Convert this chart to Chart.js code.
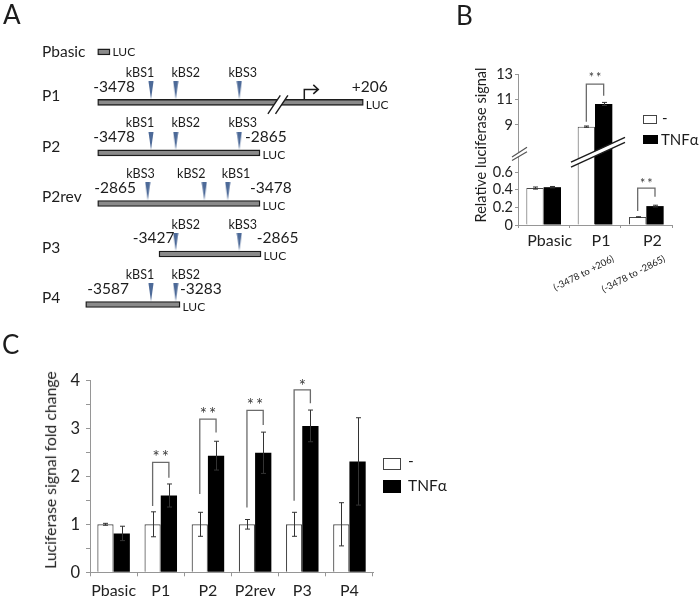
<!DOCTYPE html>
<html>
<head>
<meta charset="utf-8">
<script src="https://cdn.jsdelivr.net/npm/chart.js@4.4.0/dist/chart.umd.min.js"></script>
<style>
    body { margin: 0; background: #fff; font-family: Lato, "Open Sans", sans-serif; color: #1c1c1c; }
    #page { position: relative; width: 700px; height: 602px; overflow: hidden; }
    canvas { position: absolute; left: 0; top: 0; pointer-events: none; }
    .txt { position: absolute; white-space: nowrap; line-height: 1; }
    .letter { font-size: 26px; }
    .vtitle { transform: translate(-50%, -50%) rotate(-90deg); }
    .swatch { position: absolute; box-sizing: border-box; }
</style>
</head>
<body>
<div id="page">
    <canvas id="chartA" width="700" height="602"></canvas>
    <canvas id="chartBTop" width="700" height="602"></canvas>
    <canvas id="chartBBottom" width="700" height="602"></canvas>
    <canvas id="chartC" width="700" height="602"></canvas>

    <div class="txt letter" style="left:3px; top:1px;">A</div>
    <div class="txt letter" style="left:456px; top:2px;">B</div>
    <div class="txt letter" style="left:2px; top:331px;">C</div>

    <!-- panel B legend + title -->
    <div class="swatch" style="left:643px; top:115px; width:14px; height:9px; border:1.2px solid #444; background:#fff;"></div>
    <div class="txt" style="left:662px; top:110px; font-size:15px;">-</div>
    <div class="swatch" style="left:643px; top:135px; width:15px; height:9px; background:#000;"></div>
    <div class="txt" style="left:661px; top:132px; font-size:15px;">TNFα</div>
    <div class="txt vtitle" style="left:481px; top:145px; font-size:14.5px;">Relative luciferase signal</div>

    <!-- panel C legend + title -->
    <div class="swatch" style="left:383px; top:458px; width:18px; height:12px; border:1.3px solid #444; background:#fff;"></div>
    <div class="txt" style="left:408px; top:453px; font-size:15.5px;">-</div>
    <div class="swatch" style="left:383px; top:480px; width:18px; height:13px; background:#000;"></div>
    <div class="txt" style="left:408px; top:478px; font-size:15.5px;">TNFα</div>
    <div class="txt vtitle" style="left:50px; top:470px; font-size:15.8px;">Luciferase signal fold change</div>
</div>

<script>
// =============================
// DATA
// =============================

// Panel A: reporter constructs, positions in schematic units along the map
const constructNames = ['Pbasic', 'P1', 'P2', 'P2rev', 'P3', 'P4'];
const constructStart = [17.7, 17.7, 17.7, 17.7, 79, 5.7];
const constructEnd = [30, 283.3, 180, 180, 181, 100];
const startLabels = ['', '-3478', '-3478', '-2865', '-3427', '-3587'];
const endLabels = ['', '+206', '-2865', '-3478', '-2865', '-3283'];

const siteRows = ['P1', 'P1', 'P1', 'P2', 'P2', 'P2', 'P2rev', 'P2rev', 'P2rev', 'P3', 'P3', 'P4', 'P4'];
const siteNames = ['kBS1', 'kBS2', 'kBS3', 'kBS1', 'kBS2', 'kBS3', 'kBS3', 'kBS2', 'kBS1', 'kBS2', 'kBS3', 'kBS1', 'kBS2'];
const sitePos = [71, 95.7, 159.3, 71, 95.7, 159.3, 67.7, 124.3, 147.7, 95.7, 159.3, 71, 95.7];

const p1BreakPos = 198;   // "//" gap in P1
const p1TssPos = 224.3;   // transcription start arrow

// Panel B: relative luciferase signal
const bLabels = ['Pbasic', 'P1', 'P2'];
const bSubLabels = ['', '(-3478 to +206)', '(-3478 to -2865)'];
const bControl = [0.42, 8.87, 0.09];
const bControlErr = [0.012, 0.05, 0.004];
const bTnf = [0.43, 10.65, 0.215];
const bTnfErr = [0.008, 0.12, 0.01];
const bUpperTicks = [9, 11, 13];
const bLowerTicks = [0, 0.2, 0.4, 0.6];
const bSig = ['', '**', '**'];
const bBracketLeft = [null, 9.26, 0.16];
const bBracketTop = [null, 12.2, 0.42];
const bBracketRight = [null, 11.3, 0.32];
const bStarAt = [null, 12.9, 0.5];

// Panel C: fold change
const cLabels = ['Pbasic', 'P1', 'P2', 'P2rev', 'P3', 'P4'];
const cControl = [1, 1, 1, 1, 1, 1];
const cControlErr = [0.02, 0.26, 0.25, 0.1, 0.25, 0.45];
const cTnf = [0.81, 1.6, 2.43, 2.49, 3.05, 2.31];
const cTnfErr = [0.15, 0.24, 0.3, 0.43, 0.33, 0.91];
const cTicks = [0, 0.5, 1, 1.5, 2, 2.5, 3, 3.5, 4];
const cSig = ['', '**', '**', '**', '*', ''];
const cBracketLeft = [null, 1.38, 1.63, 1.35, 1.49, null];
const cBracketTop = [null, 2.29, 3.19, 3.375, 3.8, null];
const cBracketRight = [null, 1.97, 2.91, 3.07, 3.52, null];
const cStarAt = [null, 2.48, 3.37, 3.56, 3.95, null];

// =============================
// COMMON
// =============================
Chart.defaults.font.family = 'Lato, "Open Sans", sans-serif';
Chart.defaults.color = '#1e1e1e';
Chart.defaults.animation = false;
Chart.defaults.plugins.legend.display = false;
Chart.defaults.plugins.tooltip.enabled = false;

const axisGray = '#969696';
const FONT = 'Lato, "Open Sans", sans-serif';

function errorBarPlugin(errorSets) {
    return {
        id: 'errorBars',
        afterDatasetsDraw(chart) {
            const { ctx, chartArea, scales: { y } } = chart;
            ctx.save();
            ctx.strokeStyle = '#333';
            ctx.lineWidth = 1;
            chart.data.datasets.forEach((ds, d) => {
                chart.getDatasetMeta(d).data.forEach((bar, i) => {
                    const err = errorSets[d][i];
                    const hi = y.getPixelForValue(ds.data[i] + err);
                    const lo = y.getPixelForValue(ds.data[i] - err);
                    if (hi < chartArea.top - 1 || lo > chartArea.bottom + 1) return;
                    const x = Math.round(bar.x) + 0.5;
                    ctx.beginPath();
                    ctx.moveTo(x, lo); ctx.lineTo(x, hi);
                    ctx.moveTo(x - 2.5, hi); ctx.lineTo(x + 2.5, hi);
                    ctx.moveTo(x - 2.5, lo); ctx.lineTo(x + 2.5, lo);
                    ctx.stroke();
                });
            });
            ctx.restore();
        }
    };
}

function bracketPlugin(sig, left, top, right, star, starSize) {
    return {
        id: 'sigBrackets',
        afterDatasetsDraw(chart) {
            const { ctx, scales: { y } } = chart;
            const ctrl = chart.getDatasetMeta(0).data;
            const tnf = chart.getDatasetMeta(1).data;
            ctx.save();
            ctx.strokeStyle = '#6b6b6b';
            ctx.lineWidth = 1.3;
            ctx.fillStyle = '#3a3a3a';
            ctx.font = `${starSize}px ${FONT}`;
            ctx.textAlign = 'center';
            ctx.textBaseline = 'alphabetic';
            ctx.letterSpacing = '2px';
            sig.forEach((s, i) => {
                if (!s || top[i] < y.min || top[i] > y.max) return;
                const x0 = ctrl[i].x, x1 = tnf[i].x;
                const yt = y.getPixelForValue(top[i]);
                ctx.beginPath();
                ctx.moveTo(x0, y.getPixelForValue(left[i]));
                ctx.lineTo(x0, yt);
                ctx.lineTo(x1, yt);
                ctx.lineTo(x1, y.getPixelForValue(right[i]));
                ctx.stroke();
                ctx.fillText(s, (x0 + x1) / 2 + 1, y.getPixelForValue(star[i]) + starSize * 0.57);
            });
            ctx.restore();
        }
    };
}

function fixedTicks(values) {
    return scale => { scale.ticks = values.map(v => ({ value: v })); };
}

// =============================
// PANEL A
// =============================
function siteMarker() {
    const c = document.createElement('canvas');
    c.width = 6;
    c.height = 42;
    const g = c.getContext('2d');
    g.fillStyle = '#4d6a98';
    g.beginPath();
    g.moveTo(0.5, 0);
    g.lineTo(5.5, 0);
    g.lineTo(3, 18);
    g.closePath();
    g.fill();
    return c;
}

// text placement relative to bar ends (px)
const startTextDx = [0, -4.4, -4.4, -3.4, -26.3, 1.6];
const endTextDx = [0, -11.6, -15, -10, -4.3, 0];
const siteTextDx = [-11, 10, 3.4, -11, 10, 3.4, -7.2, -13, 8.3, 10, 3.4, -11, 10];

const constructPlugin = {
    id: 'constructLabels',
    afterDatasetsDraw(chart) {
        const { ctx, scales: { x, y } } = chart;
        ctx.save();
        ctx.fillStyle = '#1c1c1c';
        ctx.textBaseline = 'middle';

        constructNames.forEach((name, i) => {
            const cy = y.getPixelForValue(i);
            const x0 = x.getPixelForValue(constructStart[i]);
            const x1 = x.getPixelForValue(constructEnd[i]);

            ctx.textAlign = 'left';
            ctx.font = `15.5px ${FONT}`;
            ctx.fillText(name, 42, i === 0 ? cy : cy - 6);

            if (startLabels[i]) ctx.fillText(startLabels[i], x0 + startTextDx[i], cy - 15.5);
            if (endLabels[i]) ctx.fillText(endLabels[i], x1 + endTextDx[i], cy - 15.5);

            ctx.font = `12px ${FONT}`;
            ctx.fillText('LUC', x1 + 2.5, i === 0 ? cy + 0.5 : cy + 2.5);
        });

        // kB binding site names
        ctx.font = `12.5px ${FONT}`;
        ctx.textAlign = 'center';
        siteNames.forEach((s, k) => {
            const cy = y.getPixelForValue(constructNames.indexOf(siteRows[k]));
            ctx.fillText(s, x.getPixelForValue(sitePos[k]) + siteTextDx[k], cy - 29.5);
        });

        // P1: "//" break and transcription start arrow
        const cy1 = y.getPixelForValue(1);
        const bx = x.getPixelForValue(p1BreakPos);
        const sx = 6.2, sy = 9.2, by = cy1 + 2.2;
        ctx.fillStyle = '#fff';
        ctx.beginPath();
        ctx.moveTo(bx - 3.9 - sx, by + sy);
        ctx.lineTo(bx - 3.9 + sx, by - sy);
        ctx.lineTo(bx + 3.7 + sx, by - sy);
        ctx.lineTo(bx + 3.7 - sx, by + sy);
        ctx.closePath();
        ctx.fill();
        ctx.strokeStyle = '#1c1c1c';
        ctx.lineWidth = 1.4;
        ctx.beginPath();
        ctx.moveTo(bx - 3.9 - sx, by + sy); ctx.lineTo(bx - 3.9 + sx, by - sy);
        ctx.moveTo(bx + 3.7 - sx, by + sy); ctx.lineTo(bx + 3.7 + sx, by - sy);
        ctx.stroke();

        const tx = x.getPixelForValue(p1TssPos);
        ctx.lineWidth = 1.5;
        ctx.beginPath();
        ctx.moveTo(tx, cy1 - 3);
        ctx.lineTo(tx, cy1 - 13);
        ctx.lineTo(tx + 14, cy1 - 13);
        ctx.moveTo(tx + 9, cy1 - 17.5);
        ctx.lineTo(tx + 14, cy1 - 13);
        ctx.lineTo(tx + 9, cy1 - 8.5);
        ctx.stroke();
        ctx.restore();
    }
};

new Chart(document.getElementById('chartA'), {
    type: 'bar',
    data: {
        labels: constructNames,
        datasets: [
            {
                type: 'bar',
                data: constructStart.map((s, i) => [s, constructEnd[i]]),
                backgroundColor: '#8a8a8a',
                borderColor: '#1c1c1c',
                borderWidth: 1.4,
                borderSkipped: false,
                barThickness: 6
            },
            {
                type: 'scatter',
                data: sitePos.map((p, k) => ({ x: p, y: siteRows[k] })),
                pointStyle: siteMarker(),
                pointRadius: 10
            }
        ]
    },
    options: {
        indexAxis: 'y',
        responsive: false,
        layout: { padding: { left: 80, right: 300, top: 26.65, bottom: 272.25 } },
        scales: {
            x: { type: 'linear', min: 0, max: 320, display: false },
            y: { type: 'category', offset: true, display: false }
        }
    },
    plugins: [constructPlugin]
});

// =============================
// PANEL B (broken axis: two stacked charts)
// =============================
const bTop = 74, bBreak = 152, bBottom = 225, bLeft = 518, bRight = 672;
const bYWidth = 34, bXHeight = 24;

function bBarDatasets() {
    return [
        { label: '-', data: bControl, backgroundColor: '#fff', borderColor: '#4a4a4a', borderWidth: 1, clip: 0 },
        { label: 'TNFα', data: bTnf, backgroundColor: '#000', borderColor: '#000', borderWidth: 0, clip: 0 }
    ];
}

const bYStyle = {
    grid: { drawOnChartArea: false, tickLength: 3, color: axisGray },
    border: { color: axisGray },
    ticks: { font: { size: 14.5 }, padding: 2, color: '#222' },
    afterFit: s => { s.width = bYWidth; }
};

new Chart(document.getElementById('chartBTop'), {
    type: 'bar',
    data: { labels: bLabels, datasets: bBarDatasets() },
    options: {
        responsive: false,
        layout: { padding: { left: bLeft - bYWidth, top: bTop, right: 700 - bRight, bottom: 602 - bBreak } },
        datasets: { bar: { categoryPercentage: 0.675, barPercentage: 1 } },
        scales: {
            x: { display: false },
            y: { ...bYStyle, min: 6.88, max: 13, afterBuildTicks: fixedTicks(bUpperTicks) }
        }
    },
    plugins: [
        errorBarPlugin([bControlErr, bTnfErr]),
        bracketPlugin(bSig, bBracketLeft, bBracketTop, bBracketRight, bStarAt, 12.5)
    ]
});

const bBreakPlugin = {
    id: 'axisBreak',
    afterDraw(chart) {
        const { ctx, chartArea: { left, top } } = chart;
        const cx = (chart.getDatasetMeta(0).data[1].x + chart.getDatasetMeta(1).data[1].x) / 2;
        const slope = -0.458;
        const cyBand = top + 1.7;
        const xa = cx - 24, xb = cx + 30;
        const ya = cyBand + (xa - cx) * slope, yb = cyBand + (xb - cx) * slope;
        ctx.save();
        // white band across the P1 bars
        ctx.fillStyle = '#fff';
        ctx.beginPath();
        ctx.moveTo(xa, ya - 2.5); ctx.lineTo(xb, yb - 2.5);
        ctx.lineTo(xb, yb + 2.5); ctx.lineTo(xa, ya + 2.5);
        ctx.closePath();
        ctx.fill();
        ctx.strokeStyle = '#1c1c1c';
        ctx.lineWidth = 1.4;
        ctx.beginPath();
        ctx.moveTo(xa, ya - 2.5); ctx.lineTo(xb, yb - 2.5);
        ctx.moveTo(xa, ya + 2.5); ctx.lineTo(xb, yb + 2.5);
        ctx.stroke();
        // break marks on the y axis
        ctx.beginPath();
        ctx.moveTo(left - 6, top + 5); ctx.lineTo(left + 9, top - 4.7);
        ctx.lineTo(left + 9, top - 0.3); ctx.lineTo(left - 6, top + 8.5);
        ctx.closePath();
        ctx.fill();
        ctx.strokeStyle = '#555';
        ctx.lineWidth = 1.2;
        ctx.beginPath();
        ctx.moveTo(left - 6, top + 5); ctx.lineTo(left + 9, top - 4.7);
        ctx.moveTo(left - 6, top + 8.5); ctx.lineTo(left + 9, top - 0.3);
        ctx.stroke();
        ctx.restore();
    }
};

// rotated region labels under the P1 / P2 ticks
const bSubLabelPlugin = {
    id: 'subLabels',
    afterDraw(chart) {
        const { ctx, chartArea, scales: { x } } = chart;
        ctx.save();
        ctx.font = `9.5px ${FONT}`;
        ctx.fillStyle = '#222';
        ctx.textAlign = 'right';
        ctx.textBaseline = 'top';
        bSubLabels.forEach((t, i) => {
            if (!t) return;
            ctx.save();
            ctx.translate(x.getPixelForValue(i) + 16, chartArea.bottom + 29);
            ctx.rotate(-27 * Math.PI / 180);
            ctx.fillText(t, 0, 0);
            ctx.restore();
        });
        ctx.restore();
    }
};

new Chart(document.getElementById('chartBBottom'), {
    type: 'bar',
    data: { labels: bLabels, datasets: bBarDatasets() },
    options: {
        responsive: false,
        layout: { padding: { left: bLeft - bYWidth, top: bBreak, right: 700 - bRight, bottom: 602 - bBottom - bXHeight } },
        datasets: { bar: { categoryPercentage: 0.675, barPercentage: 1 } },
        scales: {
            x: {
                grid: { drawOnChartArea: false, tickLength: 3, color: axisGray },
                border: { color: axisGray },
                ticks: { font: { size: 16 }, padding: 3, color: '#222', labelOffset: 6, maxRotation: 0, minRotation: 0 },
                afterFit: s => { s.height = bXHeight; }
            },
            y: { ...bYStyle, min: 0, max: 0.83, afterBuildTicks: fixedTicks(bLowerTicks) }
        }
    },
    plugins: [
        errorBarPlugin([bControlErr, bTnfErr]),
        bracketPlugin(bSig, bBracketLeft, bBracketTop, bBracketRight, bStarAt, 12.5),
        bBreakPlugin,
        bSubLabelPlugin
    ]
});

// =============================
// PANEL C
// =============================
const cLeft = 90, cRight = 373, cTop = 380.3, cBottom = 572.3;
const cYWidth = 40, cXHeight = 29.7;

new Chart(document.getElementById('chartC'), {
    type: 'bar',
    data: {
        labels: cLabels,
        datasets: [
            { label: '-', data: cControl, backgroundColor: '#fff', borderColor: '#4a4a4a', borderWidth: 1.2 },
            { label: 'TNFα', data: cTnf, backgroundColor: '#000', borderColor: '#000', borderWidth: 0 }
        ]
    },
    options: {
        responsive: false,
        layout: { padding: { left: cLeft - cYWidth, top: cTop, right: 700 - cRight, bottom: 602 - cBottom - cXHeight } },
        datasets: { bar: { categoryPercentage: 0.69, barPercentage: 1 } },
        scales: {
            x: {
                grid: { drawOnChartArea: false, tickLength: 4, color: axisGray },
                border: { color: axisGray },
                ticks: { font: { size: 16 }, padding: 5, color: '#222', maxRotation: 0, minRotation: 0, autoSkip: false },
                afterFit: s => { s.height = cXHeight; }
            },
            y: {
                min: 0,
                max: 4,
                afterBuildTicks: fixedTicks(cTicks),
                grid: { drawOnChartArea: false, tickLength: 4, color: axisGray },
                border: { color: axisGray },
                ticks: {
                    font: { size: 16.5 },
                    padding: 6,
                    color: '#222',
                    callback: v => (Number.isInteger(v) ? v : '')
                },
                afterFit: s => { s.width = cYWidth; }
            }
        }
    },
    plugins: [
        errorBarPlugin([cControlErr, cTnfErr]),
        bracketPlugin(cSig, cBracketLeft, cBracketTop, cBracketRight, cStarAt, 17)
    ]
});
</script>
</body>
</html>
